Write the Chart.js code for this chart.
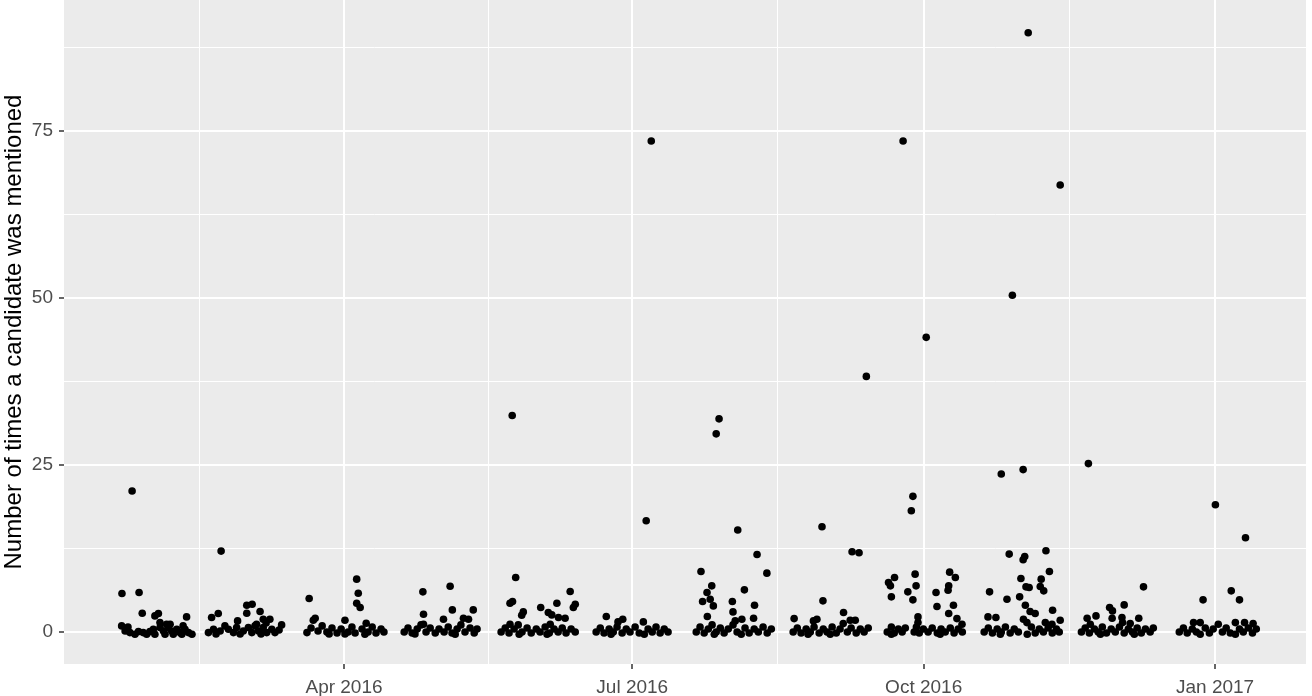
<!DOCTYPE html>
<html>
<head>
<meta charset="utf-8">
<script src="https://cdn.jsdelivr.net/npm/chart.js@4.4.1/dist/chart.umd.min.js"></script>
<style>
  html, body { margin: 0; padding: 0; background: #fff; }
  canvas { display: block; }
</style>
</head>
<body>
<canvas id="chart" width="1312" height="696"></canvas>
<script>
// x = days since 1 Jan 2016, y = mentions (jittered, as in the source plot)
const feb16 = [[20.9,5.75],[26.3,5.9],[24.1,21.1],[27.3,2.8],[31.3,2.4],[32.4,2.75],[41.3,2.25],[20.8,0.9],[32.9,1.4],[35.0,1.15],[36.1,1.15],
  [21.9,0.15],[22.8,0.75],[23.4,-0.1],[25.0,-0.35],[26.1,0.05],[27.6,-0.1],[28.7,-0.35],[29.7,0.05],[30.8,0.4],[31.3,-0.35],[32.9,0.65],[34.0,0.15],
  [34.5,-0.35],[35.5,0.65],[36.6,0.15],[37.1,-0.35],[38.2,0.4],[39.2,-0.1],[39.8,-0.35],[40.2,0.9],[40.8,0.4],[41.9,-0.1],[43.0,-0.35]];
const mar16 = [[52.2,12.1],[49.2,2.15],[51.3,2.75],[60.3,4.0],[62.0,4.15],[60.3,2.8],[64.5,3.05],[57.4,1.65],[65.5,1.9],[67.6,1.9],[71.3,1.05],[63.4,1.15],[66.4,1.35],
  [48.2,-0.1],[49.8,0.4],[50.6,-0.3],[51.9,0.15],[53.4,0.9],[54.5,0.4],[56.1,-0.1],[57.1,0.65],[58.2,-0.3],[59.2,0.15],[60.8,0.65],[61.9,-0.1],[62.9,0.9],
  [64.0,0.15],[64.8,-0.3],[65.5,0.65],[66.6,-0.1],[68.2,0.4],[69.2,-0.1],[70.5,0.3]];
const apr16 = [[80.0,5.0],[81.9,2.05],[81.3,1.75],[95.0,7.9],[95.5,5.8],[95.0,4.3],[96.1,3.65],[98.0,1.3],[91.3,1.75],
  [79.3,-0.1],[80.6,0.6],[82.8,0.15],[84.1,0.9],[85.6,0],[86.3,-0.3],[87.2,0.6],[88.8,-0.15],[90.1,0.45],[91.3,-0.3],[92.3,0],[93.5,0.75],[94.5,-0.15],
  [96.7,0.45],[97.6,-0.35],[98.6,0],[99.9,0.75],[101.1,-0.15],[102.7,0.45],[103.6,0]];
const may16 = [[115.9,6.0],[124.5,6.85],[116.1,2.65],[125.2,3.3],[131.8,3.3],[128.7,2.05],[130.3,1.9],[122.4,1.9],[116.1,1.15],
  [110.0,0],[111.2,0.6],[112.5,-0.15],[113.4,-0.3],[114.1,0.45],[115.3,1.05],[116.9,0],[118.2,0.6],[119.8,-0.15],[121.0,0.45],[122.6,0],[123.9,0.75],
  [125.1,-0.15],[126.1,-0.35],[126.7,0.45],[127.9,1.05],[129.2,0],[130.8,0.6],[132.1,-0.15],[133.0,0.45]];
const jun16 = [[144.1,32.4],[145.2,8.15],[143.4,4.3],[144.2,4.55],[147.6,3.0],[147.1,2.5],[153.1,3.65],[155.5,2.9],[156.6,2.55],[158.2,4.3],[162.4,6.05],
  [164.0,4.15],[163.4,3.65],[160.8,2.05],[158.7,2.15],[156.1,1.15],[143.4,1.15],
  [140.6,0],[141.9,0.6],[143.1,-0.15],[144.7,0.45],[146.0,1.05],[146.3,-0.35],[147.2,0],[148.8,0.6],[150.1,-0.15],[151.7,0.45],[152.9,0],[154.5,0.75],
  [155.1,-0.35],[155.8,-0.15],[157.3,0.45],[158.6,0],[159.9,0.6],[161.1,-0.15],[162.7,0.45],[164.0,0]];
const jul16 = [[188.0,73.5],[186.4,16.65],[173.8,2.3],[179.0,1.9],[185.5,1.5],[177.5,1.5],
  [170.6,0],[171.9,0.6],[173.1,-0.15],[174.7,0.45],[175.3,-0.35],[176.0,0],[177.2,0.75],[178.8,-0.15],[180.1,0.45],[181.3,0],[182.9,0.75],[184.2,-0.15],
  [185.8,-0.35],[187.0,0.45],[188.3,0],[189.5,0.75],[190.8,-0.15],[192.1,0.45],[193.3,0]];
const aug16 = [[209.4,31.9],[208.5,29.65],[215.3,15.25],[221.4,11.6],[203.7,9.05],[224.5,8.8],[207.1,6.9],[205.6,5.9],[204.2,4.55],[206.6,4.9],[207.6,3.9],
  [205.7,2.3],[213.6,4.55],[213.8,3.0],[217.4,6.3],[216.6,1.9],[214.5,1.65],[220.6,4.0],[220.3,2.05],
  [202.2,0],[203.4,0.75],[204.7,-0.15],[206.0,0.45],[207.2,1.05],[207.9,-0.35],[208.5,0],[209.8,0.6],[211.0,-0.15],[212.3,0.45],[213.8,1.05],[215.1,0],
  [216.4,-0.35],[217.6,0.6],[218.9,-0.15],[220.5,0.45],[221.8,0],[223.3,0.75],[224.6,-0.15],[225.9,0.45]];
const sep16 = [[241.9,15.75],[251.4,12.0],[253.6,11.85],[255.9,38.25],[233.1,2.0],[242.2,4.65],[240.3,1.9],[239.2,1.65],[248.7,2.9],[250.8,1.75],[252.4,1.75],[248.6,1.25],
  [232.8,0],[234.1,0.6],[235.3,-0.15],[236.9,0.45],[237.5,-0.35],[238.2,0],[239.4,0.75],[241.0,-0.15],[242.3,0.45],[243.5,0],[244.5,-0.35],[245.1,0.75],
  [246.4,-0.15],[247.6,0.45],[249.9,0],[251.1,0.6],[252.7,-0.15],[254.0,0.45],[255.2,0],[256.5,0.6]];
const oct16 = [[267.5,73.5],[270.6,20.3],[270.1,18.15],[274.8,44.1],[264.8,8.15],[262.9,7.4],[263.5,6.9],[271.3,8.65],[271.6,6.9],[269.0,6.0],[263.8,5.25],
  [270.6,4.8],[282.2,8.95],[284.0,8.15],[281.9,6.9],[281.7,6.25],[277.9,5.9],[278.2,3.8],[283.4,4.0],[281.9,2.75],[284.5,2.0],[272.2,2.25],[286.1,1.15],
  [262.5,0],[263.8,0.75],[263.8,-0.35],[264.7,-0.15],[266.0,0.45],[267.2,0],[268.2,0.6],[271.0,0],[271.7,0.75],[272.2,1.4],[272.6,-0.15],[273.9,0.45],
  [275.4,0],[276.7,0.6],[278.3,-0.15],[279.2,-0.35],[279.5,0.45],[280.8,0],[282.4,0.6],[283.6,-0.15],[284.9,0.45],[286.2,0]];
const nov16 = [[298.5,23.65],[305.4,24.3],[302.0,50.4],[307.0,89.7],[317.1,66.9],[301.0,11.65],[305.9,11.3],[305.4,10.8],[312.6,12.15],[313.7,9.05],
  [304.7,8.0],[311.1,7.9],[310.8,6.8],[311.9,6.15],[306.3,6.75],[307.3,6.65],[294.8,6.0],[300.3,4.9],[304.3,5.25],[306.1,4.0],[307.6,3.05],[309.2,2.75],
  [314.7,3.25],[294.3,2.25],[296.8,2.15],[305.5,1.9],[306.6,1.4],[312.4,1.4],[314.5,1.15],[317.1,1.75],
  [293.1,0],[294.4,0.6],[295.7,-0.15],[297.2,0.45],[298.2,-0.35],[298.5,0],[299.8,0.75],[301.3,-0.15],[302.6,0.45],[303.9,0],[306.7,-0.35],[308.0,0.75],
  [309.2,-0.15],[310.5,0.45],[311.8,0],[313.3,0.6],[314.6,-0.15],[315.9,0.45],[316.8,0]];
const dec16 = [[326.0,25.2],[343.4,6.75],[332.7,3.65],[333.6,3.15],[337.3,4.05],[328.4,2.4],[325.6,2.05],[333.5,2.05],[336.6,2.15],[336.8,1.4],[341.9,2.05],
  [339.2,1.25],[326.6,1.15],
  [323.8,0],[325.0,0.6],[326.3,-0.15],[327.9,0.45],[329.1,0],[329.8,-0.35],[330.4,0.75],[331.7,-0.15],[333.2,0.45],[334.5,0],[335.8,0.75],[337.3,-0.15],
  [338.6,0.45],[339.9,0],[340.5,-0.35],[341.4,0.6],[342.7,-0.15],[344.0,0.45],[345.5,0],[346.5,0.6]];
const jan17 = [[366.1,19.05],[375.6,14.1],[362.2,4.8],[371.1,6.15],[373.7,4.8],[359.2,1.4],[361.3,1.4],[372.4,1.4],[375.3,1.4],[378.0,1.25],[367.0,1.15],
  [354.7,0],[356.0,0.6],[357.2,-0.15],[358.8,0.45],[360.1,0],[361.3,-0.35],[362.9,0.6],[364.2,-0.15],[365.4,0.45],[368.3,0],[369.5,0.6],[370.8,-0.15],
  [372.4,-0.35],[373.7,0.45],[374.9,0],[376.5,0.6],[377.8,-0.15],[379.0,0.45]];

const months = [feb16, mar16, apr16, may16, jun16, jul16, aug16, sep16, oct16, nov16, dec16, jan17];

const xMajor = [91, 182, 274, 366];
const xLabels = ['Apr 2016', 'Jul 2016', 'Oct 2016', 'Jan 2017'];
const xMinor = [45.5, 136.5, 228, 320];
const yMajor = [0, 25, 50, 75];
const yMinor = [12.5, 37.5, 62.5, 87.5];

const points = [];
months.forEach(m => m.forEach(p => points.push({ x: p[0], y: p[1] })));

const panelBg = {
  id: 'panelBg',
  beforeDraw(chart) {
    const a = chart.chartArea, ctx = chart.ctx;
    ctx.save();
    ctx.fillStyle = '#EBEBEB';
    ctx.fillRect(a.left, a.top, a.right - a.left, a.bottom - a.top);
    ctx.restore();
  }
};

const isMajor = (list, v) => list.indexOf(v) !== -1;

new Chart(document.getElementById('chart'), {
  type: 'scatter',
  data: {
    datasets: [{
      data: points,
      pointRadius: 3.8,
      pointHoverRadius: 3.8,
      borderWidth: 0,
      backgroundColor: '#000000'
    }]
  },
  options: {
    responsive: false,
    animation: false,
    layout: { autoPadding: false, padding: { left: 0, right: 6, top: 0, bottom: 0 } },
    plugins: { legend: { display: false }, tooltip: { enabled: false } },
    scales: {
      x: {
        type: 'linear',
        min: 2.6,
        max: 394.7,
        afterBuildTicks: s => { s.ticks = xMinor.concat(xMajor).sort((a, b) => a - b).map(v => ({ value: v })); },
        afterFit: s => { s.height = 32; s.paddingLeft = 0; s.paddingRight = 0; },
        border: { display: false },
        grid: {
          color: '#FFFFFF',
          lineWidth: c => isMajor(xMajor, c.tick.value) ? 2 : 1,
          tickColor: c => isMajor(xMajor, c.tick.value) ? '#333333' : 'rgba(0,0,0,0)',
          tickWidth: 1.5,
          tickLength: 5
        },
        ticks: {
          autoSkip: false,
          maxRotation: 0,
          padding: 7,
          color: '#4D4D4D',
          font: { family: 'Liberation Sans', size: 19 },
          callback: v => { const i = xMajor.indexOf(v); return i === -1 ? '' : xLabels[i]; }
        }
      },
      y: {
        min: -4.8,
        max: 94.6,
        afterBuildTicks: s => { s.ticks = yMajor.concat(yMinor).sort((a, b) => a - b).map(v => ({ value: v })); },
        afterFit: s => { s.width = 64; s.paddingTop = 0; s.paddingBottom = 0; },
        border: { display: false },
        grid: {
          color: '#FFFFFF',
          lineWidth: c => isMajor(yMajor, c.tick.value) ? 2 : 1,
          tickColor: c => isMajor(yMajor, c.tick.value) ? '#333333' : 'rgba(0,0,0,0)',
          tickWidth: 1.5,
          tickLength: 5
        },
        ticks: {
          autoSkip: false,
          padding: 6,
          color: '#4D4D4D',
          font: { family: 'Liberation Sans', size: 19 },
          callback: v => isMajor(yMajor, v) ? String(v) : ''
        },
        title: {
          display: true,
          text: 'Number of times a candidate was mentioned',
          color: '#000000',
          padding: { top: 0, bottom: 0 },
          font: { family: 'Liberation Sans', size: 24 }
        }
      }
    }
  },
  plugins: [panelBg]
});
</script>
</body>
</html>
